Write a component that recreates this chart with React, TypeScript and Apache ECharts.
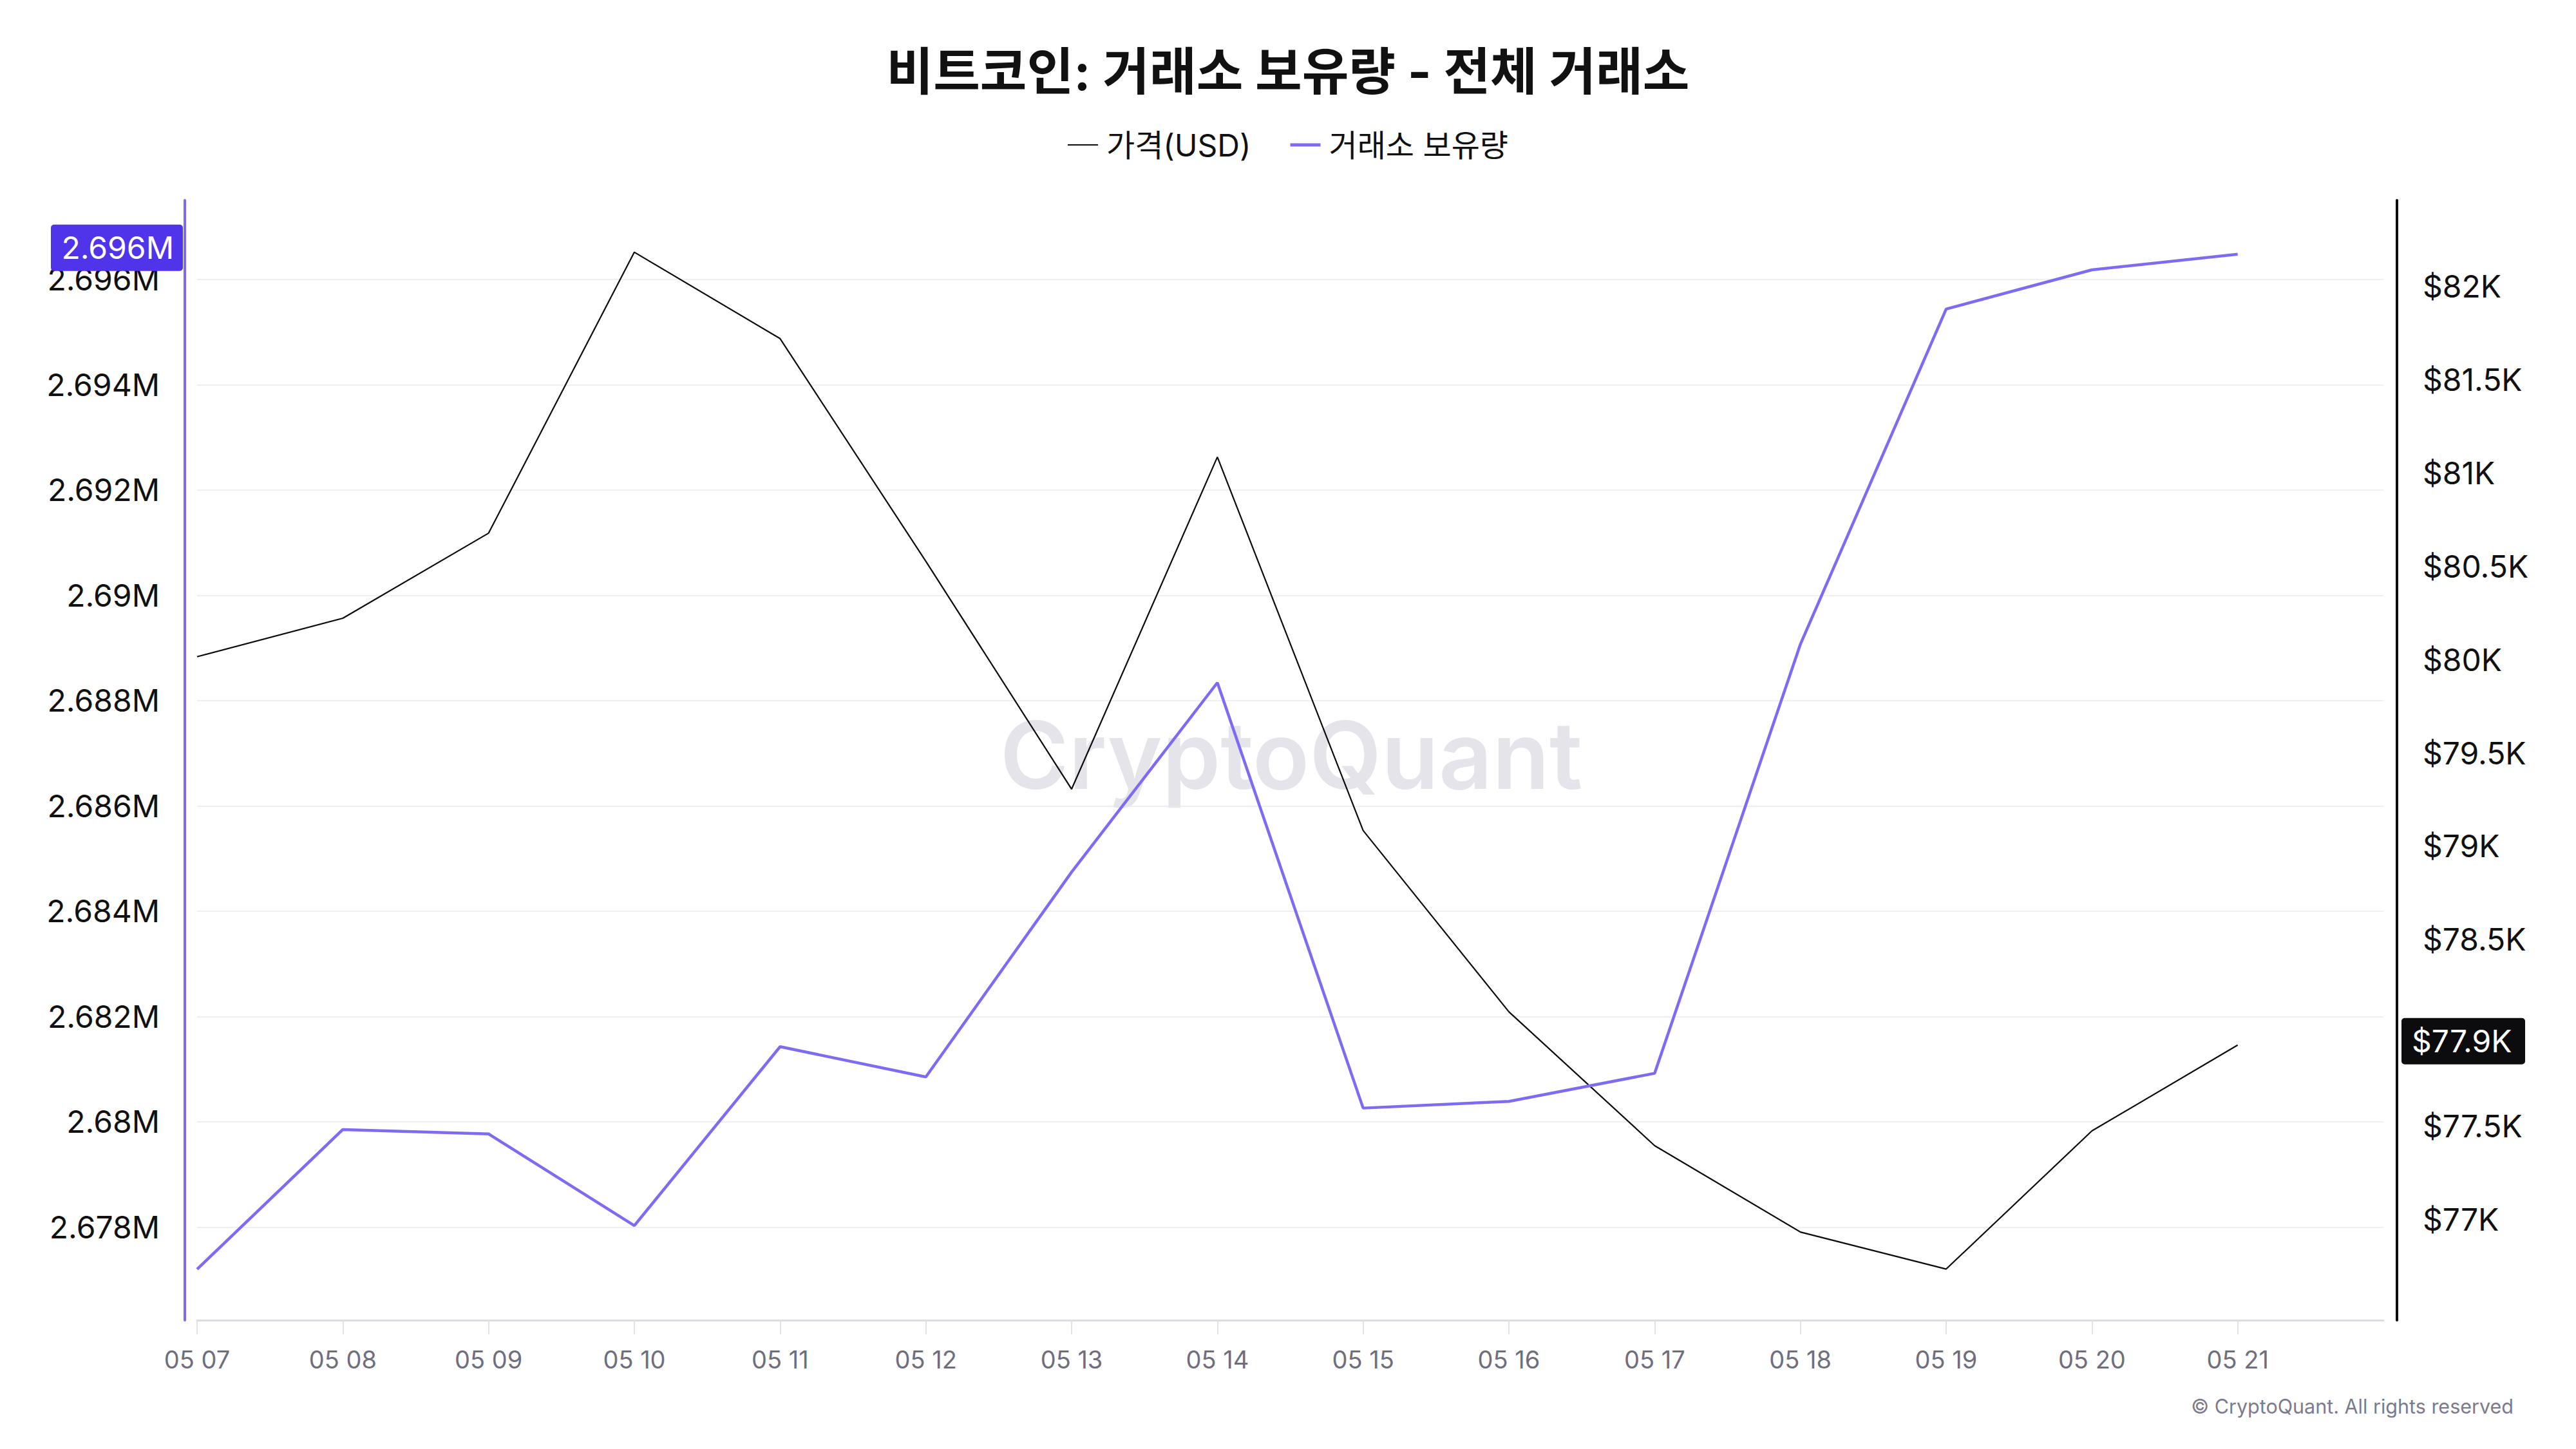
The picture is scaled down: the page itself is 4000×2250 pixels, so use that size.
import React, { useEffect, useRef } from 'react';
import * as echarts from 'echarts';

// ---- data ----
const dates = ['05 07', '05 08', '05 09', '05 10', '05 11', '05 12', '05 13', '05 14', '05 15', '05 16', '05 17', '05 18', '05 19', '05 20', '05 21'];
const axisTail = ['05 22'];
const price = [80015, 80221, 80677, 82182, 81719, 80526, 79306, 81085, 79084, 78113, 77396, 76933, 76735, 77475, 77935];
const holdings = [2677199, 2679854, 2679770, 2678028, 2681428, 2680852, 2684744, 2688342, 2680261, 2680388, 2680922, 2689072, 2695438, 2696183, 2696480];
const holdingsTicks = [2678000, 2680000, 2682000, 2684000, 2686000, 2688000, 2690000, 2692000, 2694000, 2696000];
const priceTicks = [77000, 77500, 78000, 78500, 79000, 79500, 80000, 80500, 81000, 81500, 82000];
const holdingsRange = [2676232, 2697504];
const priceRange = [76461, 82460];

const TITLE = '비트코인: 거래소 보유량 - 전체 거래소';
const PRICE_NAME = '가격(USD)';
const HOLD_NAME = '거래소 보유량';
const WATERMARK = 'CryptoQuant';
const COPYRIGHT = '© CryptoQuant. All rights reserved';

const FONT = "Inter, 'Noto Sans CJK KR', sans-serif";
const PURPLE = '#7d6cf3';
const PURPLE_DARK = '#5034ea';
const BLACK = '#0c0c0e';

const fmtHold = (v: number) => parseFloat((v / 1e6).toFixed(3)).toString() + 'M';
const fmtPrice = (v: number) => '$' + parseFloat((v / 1000).toFixed(1)).toString() + 'K';

export default function App() {
  const ref = useRef<HTMLDivElement>(null);

  useEffect(() => {
    if (!ref.current) return;
    const chart = echarts.init(ref.current, undefined, { renderer: 'svg' });
    const n = dates.length;
    const option: any = {
      animation: false,
      backgroundColor: '#ffffff',
      title: {
        text: TITLE,
        left: 'center',
        top: 66,
        textStyle: { fontSize: 79, fontWeight: 'bold', color: '#111111', fontFamily: FONT },
      },
      legend: {
        top: 196,
        left: 'center',
        itemWidth: 47,
        itemHeight: 5,
        itemGap: 61,
        textStyle: { fontSize: 48, color: '#111111', fontFamily: FONT, padding: [0, 0, 0, 8] },
        data: [
          { name: PRICE_NAME, icon: 'path://M0 0h47v2h-47z' },
          { name: HOLD_NAME, icon: 'path://M0 0h47v5h-47z' },
        ],
      },
      grid: { left: 306, right: 299, top: 311, bottom: 200 },
      xAxis: {
        type: 'category',
        data: [...dates, ...axisTail],
        boundaryGap: false,
        axisLine: { show: true, lineStyle: { color: '#dcdce4', width: 3 } },
        axisTick: {
          show: true,
          length: 22,
          interval: (i: number) => i < n,
          lineStyle: { color: '#e2e2e8', width: 2 },
        },
        axisLabel: {
          interval: (i: number) => i < n,
          margin: 42,
          fontSize: 38,
          color: '#6e6e7e',
          fontFamily: FONT,
        },
        splitLine: { show: false },
      },
      yAxis: [
        {
          type: 'value',
          position: 'left',
          min: holdingsRange[0],
          max: holdingsRange[1],
          offset: 19,
          axisLine: { show: true, lineStyle: { color: PURPLE, width: 4 } },
          axisTick: { show: false, customValues: holdingsTicks },
          axisLabel: {
            customValues: holdingsTicks,
            formatter: fmtHold,
            fontSize: 48,
            color: '#111111',
            fontFamily: FONT,
            margin: 39,
          },
          splitLine: { show: true, lineStyle: { color: '#f0f0f3', width: 2 } },
        },
        {
          type: 'value',
          position: 'right',
          min: priceRange[0],
          max: priceRange[1],
          offset: 21,
          axisLine: { show: true, lineStyle: { color: BLACK, width: 4 } },
          axisTick: { show: false, customValues: priceTicks },
          axisLabel: {
            customValues: priceTicks,
            formatter: fmtPrice,
            fontSize: 48,
            color: '#111111',
            fontFamily: FONT,
            margin: 40,
          },
          splitLine: { show: false },
        },
      ],
      series: [
        {
          name: PRICE_NAME,
          type: 'line',
          yAxisIndex: 1,
          data: price,
          symbol: 'none',
          lineStyle: { color: BLACK, width: 2.2 },
          itemStyle: { color: BLACK },
          z: 3,
        },
        {
          name: HOLD_NAME,
          type: 'line',
          yAxisIndex: 0,
          data: holdings,
          symbol: 'none',
          lineStyle: { color: PURPLE, width: 4.5 },
          itemStyle: { color: PURPLE },
          z: 4,
        },
      ],
      graphic: [
        {
          id: 'wm',
          type: 'text',
          x: 2005,
          y: 1172,
          z: 1,
          silent: true,
          style: {
            text: WATERMARK,
            fill: '#e4e4ea',
            font: `600 145px ${FONT}`,
            align: 'center',
            verticalAlign: 'middle',
          },
        },
        {
          id: 'copy',
          type: 'text',
          x: 3903,
          y: 2183,
          z: 10,
          style: {
            text: COPYRIGHT,
            fill: '#7b7b8b',
            font: `30.5px ${FONT}`,
            align: 'right',
            verticalAlign: 'middle',
          },
        },
      ],
    };
    chart.setOption(option);

    const lastH = holdings[holdings.length - 1];
    const lastP = price[price.length - 1];
    const yL = chart.convertToPixel({ yAxisIndex: 0 }, lastH) as number;
    const yR = chart.convertToPixel({ yAxisIndex: 1 }, lastP) as number;
    const boxH = 72;
    chart.setOption({
      graphic: [
        {
          id: 'boxL',
          type: 'rect',
          z: 100,
          shape: { x: 79, y: yL - 10 - boxH / 2, width: 205, height: boxH, r: 5 },
          style: { fill: PURPLE_DARK },
        },
        {
          id: 'textL',
          type: 'text',
          z: 101,
          x: 270,
          y: yL - 10,
          style: { text: fmtHold(lastH), fill: '#ffffff', font: `48px ${FONT}`, align: 'right', verticalAlign: 'middle' },
        },
        {
          id: 'boxR',
          type: 'rect',
          z: 100,
          shape: { x: 3729, y: yR - 6 - boxH / 2, width: 192, height: boxH, r: 5 },
          style: { fill: BLACK },
        },
        {
          id: 'textR',
          type: 'text',
          z: 101,
          x: 3745,
          y: yR - 6,
          style: { text: fmtPrice(lastP), fill: '#ffffff', font: `48px ${FONT}`, align: 'left', verticalAlign: 'middle' },
        },
      ],
    });

    return () => chart.dispose();
  }, []);

  return (
    <div
      ref={ref}
      style={{ position: 'fixed', left: 0, top: 0, width: 4000, height: 2250, background: '#fff' }}
    />
  );
}
